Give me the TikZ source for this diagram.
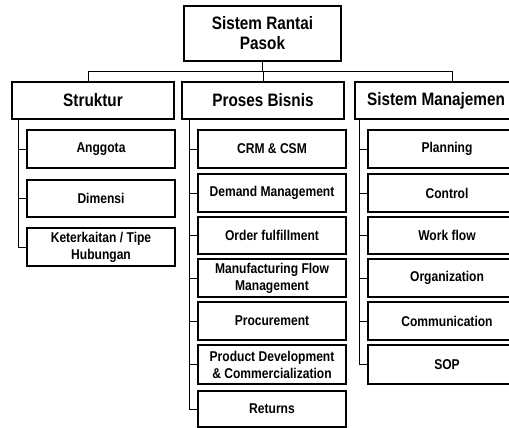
\documentclass[tikz,border=0pt]{standalone}
\usepackage{fontspec}
\setmainfont{Liberation Sans}[FakeStretch=0.85]
\begin{document}
\begin{tikzpicture}[x=1pt,y=-1pt,
  box/.style={draw=black,line width=1.3pt,rectangle,inner sep=0pt,align=center,font=\bfseries},
  head/.style={box,font=\fontsize{18}{20}\selectfont\bfseries},
  item/.style={box,minimum width=148pt,minimum height=38pt,font=\fontsize{14.2}{17}\selectfont\bfseries},
  itemr/.style={item,minimum width=158pt},
  conn/.style={draw=black,line width=0.8pt}]
\clip (0,0) rectangle (509,428);
\fill[white] (0,0) rectangle (509,428);
% root
\node[head,minimum width=157pt,minimum height=55pt] (root) at (262.5,33.5) {Sistem Rantai\\Pasok};
% level 1
\node[head,minimum width=162pt,minimum height=37pt] (str) at (93,100.5) {Struktur};
\node[head,minimum width=162pt,minimum height=37pt] (pb) at (263,100.5) {Proses Bisnis};
\node[head,minimum width=162pt,minimum height=37pt] (sm) at (436,100.5) {Sistem Manajemen};
% Struktur children
\node[item] (ang) at (101,149) {Anggota};
\node[item,minimum height=37pt] (dim) at (101,198.5) {Dimensi};
\node[item] (ket) at (101,247) {Keterkaitan / Tipe\\Hubungan};
% Proses Bisnis children
\node[item] (crm) at (272,149) {CRM \& CSM};
\node[item] (dem) at (272,193) {Demand Management};
\node[item,minimum height=37pt] (ord) at (272,235.5) {Order fulfillment};
\node[item] (man) at (272,278) {Manufacturing Flow\\Management};
\node[item] (pro) at (272,321) {Procurement};
\node[item,minimum height=39pt] (pdc) at (272,364.5) {Product Development\\\& Commercialization};
\node[item,minimum height=36pt] (ret) at (272,409) {Returns};
% Sistem Manajemen children
\node[itemr] (pla) at (447,149) {Planning};
\node[itemr] (con) at (447,193) {Control};
\node[itemr,minimum height=37pt] (wf) at (447,235.5) {Work flow};
\node[itemr] (org) at (447,278) {Organization};
\node[itemr] (com) at (447,321) {Communication};
\node[itemr,minimum height=39pt] (sop) at (447,364.5) {SOP};
% top connectors
\coordinate (bus) at (262.5,71);
\draw[conn] (root.south) -- (bus);
\draw[conn] (bus) -| ([xshift=-5pt]str.north);
\draw[conn] (bus) -| (pb.north);
\draw[conn] (bus) -| ([xshift=16pt]sm.north);
% Struktur spine
\foreach \c in {ang,dim,ket} \draw[conn] ([xshift=7pt]str.south west) |- (\c.west);
% Proses Bisnis spine
\foreach \c in {crm,dem,ord,man,pro,pdc,ret} \draw[conn] ([xshift=8pt]pb.south west) |- (\c.west);
% Sistem Manajemen spine
\foreach \c in {pla,con,wf,org,com,sop} \draw[conn] ([xshift=5pt]sm.south west) |- (\c.west);
\end{tikzpicture}
\end{document}
